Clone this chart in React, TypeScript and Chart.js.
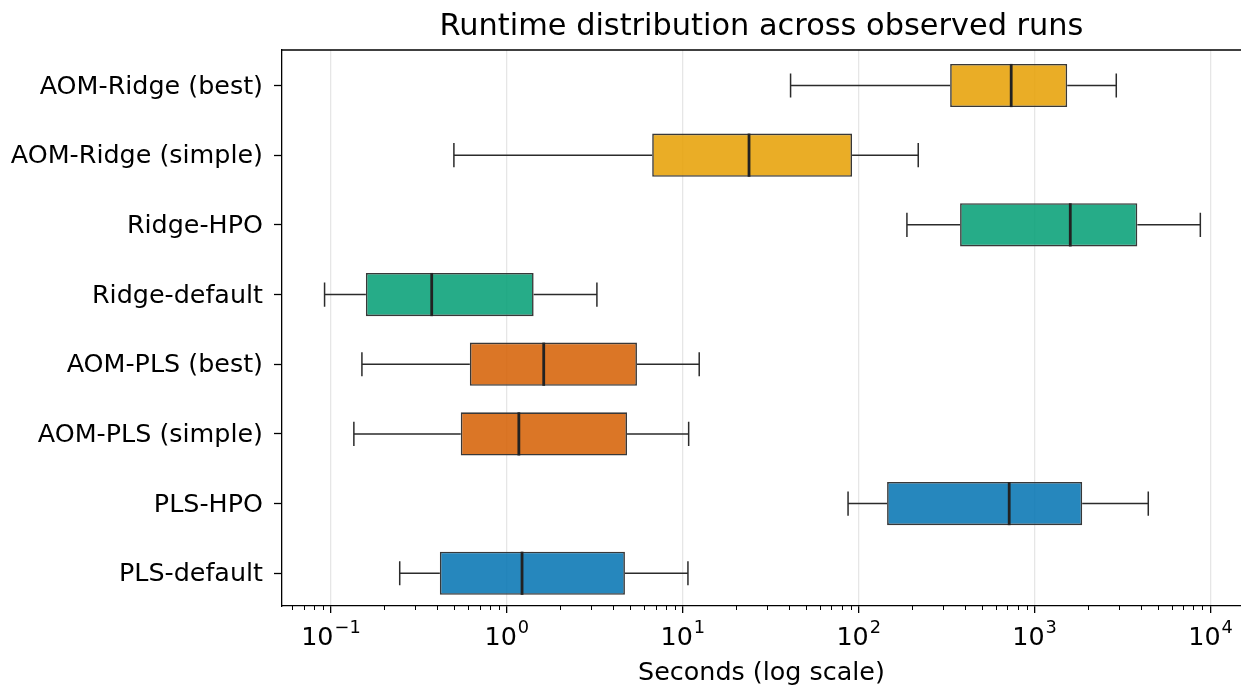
import React, { useEffect, useRef } from "react";
import { Chart, registerables } from "chart.js";

Chart.register(...registerables);

const categories = [
  "AOM-Ridge (best)",
  "AOM-Ridge (simple)",
  "Ridge-HPO",
  "Ridge-default",
  "AOM-PLS (best)",
  "AOM-PLS (simple)",
  "PLS-HPO",
  "PLS-default",
];
const whiskerLow = [41, 0.5, 188, 0.092, 0.15, 0.135, 87, 0.246];
const q1 = [331, 6.7, 377, 0.158, 0.616, 0.547, 145, 0.416];
const median = [736, 23.8, 1595, 0.374, 1.62, 1.17, 717, 1.22];
const q3 = [1532, 91.7, 3835, 1.42, 5.49, 4.82, 1864, 4.69];
const whiskerHigh = [2912, 218, 8750, 3.25, 12.4, 10.8, 4427, 10.7];
const boxColors = [
  "rgba(230,159,0,0.85)",
  "rgba(230,159,0,0.85)",
  "rgba(0,158,115,0.85)",
  "rgba(0,158,115,0.85)",
  "rgba(213,94,0,0.85)",
  "rgba(213,94,0,0.85)",
  "rgba(0,114,178,0.85)",
  "rgba(0,114,178,0.85)",
];
const majorTicks = [0.1, 1, 10, 100, 1000, 10000];
const tickBase = ["10", "10", "10", "10", "10", "10"];
const tickExp = ["\u22121", "0", "1", "2", "3", "4"];
const minorTicks = [
  0.06, 0.07, 0.08, 0.09,
  0.2, 0.3, 0.4, 0.5, 0.6, 0.7, 0.8, 0.9,
  2, 3, 4, 5, 6, 7, 8, 9,
  20, 30, 40, 50, 60, 70, 80, 90,
  200, 300, 400, 500, 600, 700, 800, 900,
  2000, 3000, 4000, 5000, 6000, 7000, 8000, 9000,
];
const xMin = 0.0527;
const xMax = 14900;

const FONT = "'DejaVu Sans', sans-serif";
const TICK_SIZE = 25.4;

const boxPlugin = {
  id: "boxExtras",
  afterDatasetsDraw(chart: any) {
    const ctx = chart.ctx;
    const xs = chart.scales.x;
    const meta = chart.getDatasetMeta(0);
    ctx.save();
    meta.data.forEach((bar: any, i: number) => {
      const y = bar.y;
      const h = bar.height;
      const cap = h * 0.28;
      const pLo = xs.getPixelForValue(whiskerLow[i]);
      const pQ1 = xs.getPixelForValue(q1[i]);
      const pQ3 = xs.getPixelForValue(q3[i]);
      const pHi = xs.getPixelForValue(whiskerHigh[i]);
      const pMed = xs.getPixelForValue(median[i]);
      ctx.strokeStyle = "#2b2b2b";
      ctx.lineWidth = 1.5;
      ctx.beginPath();
      ctx.moveTo(pLo, y); ctx.lineTo(pQ1, y);
      ctx.moveTo(pQ3, y); ctx.lineTo(pHi, y);
      ctx.moveTo(pLo, y - cap); ctx.lineTo(pLo, y + cap);
      ctx.moveTo(pHi, y - cap); ctx.lineTo(pHi, y + cap);
      ctx.stroke();
      ctx.strokeStyle = "#222222";
      ctx.lineWidth = 2.8;
      ctx.beginPath();
      ctx.moveTo(pMed, y - h / 2);
      ctx.lineTo(pMed, y + h / 2);
      ctx.stroke();
    });
    const a = chart.chartArea;
    // top spine
    ctx.strokeStyle = "#000";
    ctx.lineWidth = 1.3;
    ctx.beginPath();
    ctx.moveTo(a.left, a.top);
    ctx.lineTo(a.right, a.top);
    ctx.stroke();
    // minor ticks
    ctx.lineWidth = 1;
    ctx.beginPath();
    minorTicks.forEach((v) => {
      if (v < xMin || v > xMax) return;
      const px = Math.round(xs.getPixelForValue(v)) + 0.5;
      ctx.moveTo(px, a.bottom);
      ctx.lineTo(px, a.bottom + 4);
    });
    ctx.stroke();
    // major tick labels as 10^n with raised exponent
    const baseline = a.bottom + 39;
    const expSize = TICK_SIZE * 0.7;
    ctx.fillStyle = "#000";
    ctx.textBaseline = "alphabetic";
    ctx.textAlign = "left";
    majorTicks.forEach((v, i) => {
      const px = xs.getPixelForValue(v);
      ctx.font = `${TICK_SIZE}px ${FONT}`;
      const wb = ctx.measureText(tickBase[i]).width;
      ctx.font = `${expSize}px ${FONT}`;
      const we = ctx.measureText(tickExp[i]).width;
      const x0 = px - (wb + we + 1) / 2;
      ctx.font = `${TICK_SIZE}px ${FONT}`;
      ctx.fillText(tickBase[i], x0, baseline);
      ctx.font = `${expSize}px ${FONT}`;
      ctx.fillText(tickExp[i], x0 + wb + 1, baseline - 12.5);
    });
    ctx.restore();
  },
};

export default function App() {
  const ref = useRef<HTMLCanvasElement>(null);
  useEffect(() => {
    document.body.style.margin = "0";
    Chart.defaults.font.family = FONT;
    Chart.defaults.color = "#000";
    const chart = new Chart(ref.current as HTMLCanvasElement, {
      type: "bar",
      data: {
        datasets: [
          {
            data: categories.map((_, i) => ({ y: i, x: [q1[i], q3[i]] })) as any,
            backgroundColor: boxColors,
            borderColor: "#383838",
            borderWidth: 1.6,
            borderSkipped: false,
            categoryPercentage: 1,
            barPercentage: 0.62,
          },
        ],
      },
      options: {
        indexAxis: "y",
        animation: false,
        responsive: false,
        devicePixelRatio: 1,
        layout: { padding: 0 },
        plugins: {
          legend: { display: false },
          tooltip: { enabled: false },
          title: {
            display: true,
            text: "Runtime distribution across observed runs",
            fullSize: false,
            color: "#000",
            font: { size: 30.4, weight: "normal", lineHeight: 1.2 },
            padding: { top: 9, bottom: 4.5 },
          },
        },
        scales: {
          x: {
            type: "logarithmic",
            min: xMin,
            max: xMax,
            afterFit: (s: any) => { s.height = 81; },
            afterBuildTicks: (s: any) => {
              s.ticks = majorTicks
                .filter((v) => v >= xMin && v <= xMax)
                .map((v) => ({ value: v, major: true }));
            },
            ticks: {
              autoSkip: false,
              maxRotation: 0,
              padding: 8,
              color: "#000",
              font: { size: TICK_SIZE },
              callback: () => "",
            },
            grid: {
              color: "#e6e6e6",
              tickColor: "#000",
              lineWidth: 1.3,
              tickLength: 7,
              tickWidth: 1.3,
            },
            border: { color: "#000", width: 1.3 },
            title: {
              display: true,
              text: "Seconds (log scale)",
              color: "#000",
              font: { size: TICK_SIZE, lineHeight: 1.1 },
              padding: { top: 0, bottom: 0 },
            },
          },
          y: {
            type: "linear",
            reverse: true,
            min: -0.51,
            max: 7.47,
            offset: false,
            afterFit: (s: any) => { s.width = 282; },
            afterBuildTicks: (s: any) => {
              s.ticks = categories.map((_, i) => ({ value: i }));
            },
            ticks: {
              autoSkip: false,
              padding: 11,
              labelOffset: 1.5,
              color: "#000",
              font: { size: TICK_SIZE },
              callback: (value: any) => categories[Number(value)] ?? "",
            },
            grid: {
              drawOnChartArea: false,
              offset: false,
              tickLength: 8,
              tickColor: "#000",
              tickWidth: 1.3,
            },
            border: { color: "#000", width: 1.3 },
          },
        },
      } as any,
      plugins: [boxPlugin],
    });
    return () => chart.destroy();
  }, []);
  return (
    <div style={{ width: 1241, height: 687 }}>
      <canvas ref={ref} width={1241} height={687} style={{ display: "block" }} />
    </div>
  );
}
